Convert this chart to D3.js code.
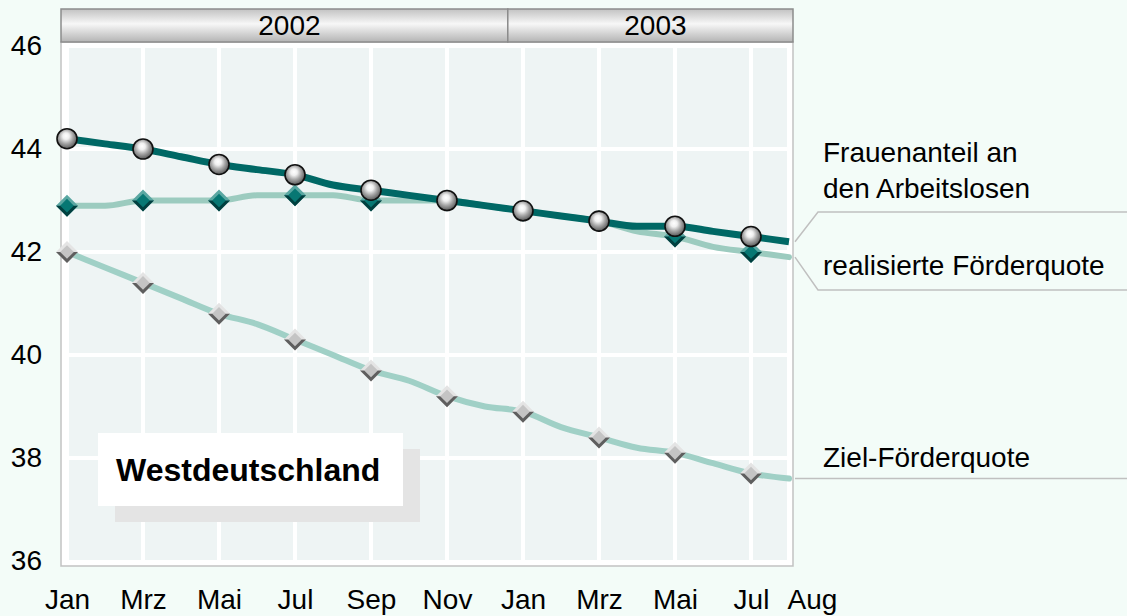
<!DOCTYPE html>
<html>
<head>
<meta charset="utf-8">
<script src="https://cdn.jsdelivr.net/npm/d3@7"></script>
<style>
  html, body { margin: 0; padding: 0; background: #f3fcf8; }
  svg { display: block; font-family: "Liberation Sans", Arial, sans-serif; }
</style>
</head>
<body>
<div id="chart"></div>
<script>
// months Jan 2002 .. Aug 2003 (index 0..19)
var tickMonths = [0, 2, 4, 6, 8, 10, 12, 14, 16, 18, 19];
var tickNames = ["Jan", "Mrz", "Mai", "Jul", "Sep", "Nov", "Jan", "Mrz", "Mai", "Jul", "Aug"];
var markerMonths = [0, 2, 4, 6, 8, 10, 12, 14, 16, 18];
var yTicks = [36, 38, 40, 42, 44, 46];
var years = [{label: "2002", from: 0, to: 11.6}, {label: "2003", from: 11.6, to: 19}];

var frauen     = [44.2, 44.1, 44.0, 43.85, 43.7, 43.6, 43.5, 43.3, 43.2, 43.1, 43.0, 42.9, 42.8, 42.7, 42.6, 42.5, 42.5, 42.4, 42.3, 42.2];
var realisiert = [42.9, 42.9, 43.0, 43.0, 43.0, 43.1, 43.1, 43.1, 43.0, 43.0, 43.0, 42.9, 42.8, 42.7, 42.6, 42.4, 42.3, 42.1, 42.0, 41.9];
var ziel       = [42.0, 41.7, 41.4, 41.1, 40.8, 40.6, 40.3, 40.0, 39.7, 39.5, 39.2, 39.0, 38.9, 38.6, 38.4, 38.2, 38.1, 37.9, 37.7, 37.6];

var width = 1127, height = 616;
var frame = {x0: 61, x1: 793, y0: 42, y1: 566};
var fontSize = 28;

var svg = d3.select('#chart').append('svg')
  .attr('width', width)
  .attr('height', height);

var x = d3.scaleLinear().domain([0, 19]).range([67, 789]);
var y = d3.scaleLinear().domain([36, 46]).range([561, 46]);

var defs = svg.append('defs');
var hg = defs.append('linearGradient').attr('id', 'hdr')
  .attr('x1', 0).attr('y1', 0).attr('x2', 0).attr('y2', 1);
hg.append('stop').attr('offset', '0%').attr('stop-color', '#c2c2c2');
hg.append('stop').attr('offset', '45%').attr('stop-color', '#f7f7f7');
hg.append('stop').attr('offset', '100%').attr('stop-color', '#b4b4b4');

var rg = defs.append('radialGradient').attr('id', 'ball')
  .attr('cx', '45%').attr('cy', '42%').attr('r', '58%').attr('fx', '45%').attr('fy', '35%');
rg.append('stop').attr('offset', '0%').attr('stop-color', '#ffffff');
rg.append('stop').attr('offset', '28%').attr('stop-color', '#f0f0f0');
rg.append('stop').attr('offset', '60%').attr('stop-color', '#a8a8a8');
rg.append('stop').attr('offset', '100%').attr('stop-color', '#5a5a5a');

// plot frame + cells
svg.append('rect')
  .attr('x', frame.x0).attr('y', frame.y0)
  .attr('width', frame.x1 - frame.x0).attr('height', frame.y1 - frame.y0)
  .attr('fill', '#ffffff').attr('stroke', '#c2c2c2').attr('stroke-width', 1.5);
svg.append('rect')
  .attr('x', 68).attr('y', 48)
  .attr('width', 787 - 68).attr('height', 560 - 48)
  .attr('fill', '#eef4f4');

// grid
svg.selectAll('.vgrid').data(markerMonths).enter().append('line')
  .attr('class', 'vgrid')
  .attr('x1', function (d) {return x(d);}).attr('x2', function (d) {return x(d);})
  .attr('y1', 48).attr('y2', 560)
  .attr('stroke', '#ffffff').attr('stroke-width', 4);
svg.selectAll('.hgrid').data([38, 40, 42, 44]).enter().append('line')
  .attr('class', 'hgrid')
  .attr('x1', 68).attr('x2', 787)
  .attr('y1', function (d) {return y(d);}).attr('y2', function (d) {return y(d);})
  .attr('stroke', '#ffffff').attr('stroke-width', 4);

// year header
function hx0(d, i) {return i === 0 ? frame.x0 : x(d.from);}
function hx1(d, i) {return i === years.length - 1 ? frame.x1 : x(d.to);}
var hdr = svg.selectAll('.year').data(years).enter().append('g').attr('class', 'year');
hdr.append('rect')
  .attr('x', hx0)
  .attr('y', 9)
  .attr('width', function (d, i) {return hx1(d, i) - hx0(d, i);})
  .attr('height', 33)
  .attr('fill', 'url(#hdr)')
  .attr('stroke', '#8c8c8c').attr('stroke-width', 1.5);
hdr.append('text')
  .attr('x', function (d, i) {return (hx0(d, i) + hx1(d, i)) / 2 + 5;})
  .attr('y', 35)
  .attr('text-anchor', 'middle')
  .attr('font-size', fontSize)
  .attr('fill', '#000')
  .text(function (d) {return d.label;});

// axes
var yAxis = svg.append('g')
  .attr('transform', 'translate(42,0)')
  .call(d3.axisLeft(y).tickValues(yTicks).tickSize(0).tickPadding(0));
yAxis.select('.domain').remove();
yAxis.selectAll('text').attr('font-size', fontSize).attr('font-family', 'Liberation Sans, Arial, sans-serif')
  .attr('fill', '#000').attr('dy', '0.3em');

var xAxis = svg.append('g')
  .attr('transform', 'translate(0,581)')
  .call(d3.axisBottom(x).tickValues(tickMonths).tickSize(0).tickPadding(0)
    .tickFormat(function (d, i) {return tickNames[i];}));
xAxis.select('.domain').remove();
xAxis.selectAll('text').attr('font-size', fontSize).attr('font-family', 'Liberation Sans, Arial, sans-serif')
  .attr('fill', '#000').attr('dy', '1.0em')
  .attr('dx', function (d) {return d === 19 ? 23 : 0;});

// lines
var line = d3.line()
  .x(function (d, i) {return x(i);})
  .y(function (d) {return y(d);})
  .curve(d3.curveMonotoneX);

function diamond(g, data, s, cLight, cDark, cFace) {
  var m = g.selectAll(null).data(markerMonths).enter().append('g')
    .attr('transform', function (d) {return 'translate(' + x(d) + ',' + y(data[d]) + ')';});
  m.append('path').attr('d', 'M0,' + (-s) + 'L' + s + ',0L0,' + s + 'L' + (-s) + ',0Z').attr('fill', cLight);
  m.append('path').attr('d', 'M' + s + ',0L0,' + s + 'L' + (-s) + ',0Z').attr('fill', cDark);
  var t = s * 0.62;
  m.append('path').attr('d', 'M0,' + (-t) + 'L' + t + ',0L0,' + t + 'L' + (-t) + ',0Z').attr('fill', cFace);
}

var gZ = svg.append('g');
gZ.append('path').attr('d', line(ziel)).attr('fill', 'none')
  .attr('stroke', '#a0d0c6').attr('stroke-width', 6).attr('stroke-linecap', 'round');
diamond(gZ, ziel, 11, '#e4e4e4', '#5e5e5e', '#c4c4c4');

var gR = svg.append('g');
gR.append('path').attr('d', line(realisiert)).attr('fill', 'none')
  .attr('stroke', '#9ccbbf').attr('stroke-width', 6).attr('stroke-linecap', 'round');
diamond(gR, realisiert, 11, '#5aa7a2', '#003f3f', '#077773');

var gF = svg.append('g');
gF.append('path').attr('d', line(frauen)).attr('fill', 'none')
  .attr('stroke', '#006865').attr('stroke-width', 7).attr('stroke-linecap', 'butt');
gF.selectAll(null).data(markerMonths).enter().append('circle')
  .attr('cx', function (d) {return x(d);})
  .attr('cy', function (d) {return y(frauen[d]);})
  .attr('r', 10)
  .attr('fill', 'url(#ball)')
  .attr('stroke', '#111').attr('stroke-width', 1.6);

// label connectors
var conn = '#c0c0c0';
var last = 19;
svg.append('path')
  .attr('d', 'M795,' + y(frauen[last]) + 'L818,212L1127,212')
  .attr('fill', 'none').attr('stroke', conn).attr('stroke-width', 1.5);
svg.append('path')
  .attr('d', 'M795,' + y(realisiert[last]) + 'L818,290L1127,290')
  .attr('fill', 'none').attr('stroke', conn).attr('stroke-width', 1.5);
svg.append('path')
  .attr('d', 'M795,' + y(ziel[last]) + 'L1127,' + y(ziel[last]))
  .attr('fill', 'none').attr('stroke', conn).attr('stroke-width', 1.5);

var labels = [
  {lines: ["Frauenanteil an", "den Arbeitslosen"], y: 162},
  {lines: ["realisierte Förderquote"], y: 275},
  {lines: ["Ziel-Förderquote"], y: 467}
];
labels.forEach(function (l) {
  var t = svg.append('text').attr('x', 823).attr('y', l.y).attr('font-size', fontSize).attr('fill', '#000');
  l.lines.forEach(function (s, i) {
    t.append('tspan').attr('x', 823).attr('dy', i === 0 ? 0 : 36).text(s);
  });
});

// region box
svg.append('rect').attr('x', 115).attr('y', 449).attr('width', 305).attr('height', 73).attr('fill', '#e4e4e4');
svg.append('rect').attr('x', 98).attr('y', 433).attr('width', 305).attr('height', 73).attr('fill', '#ffffff');
svg.append('text').attr('x', 116).attr('y', 481)
  .attr('font-size', 32).attr('font-weight', 'bold').attr('fill', '#000')
  .text('Westdeutschland');
</script>
</body>
</html>
